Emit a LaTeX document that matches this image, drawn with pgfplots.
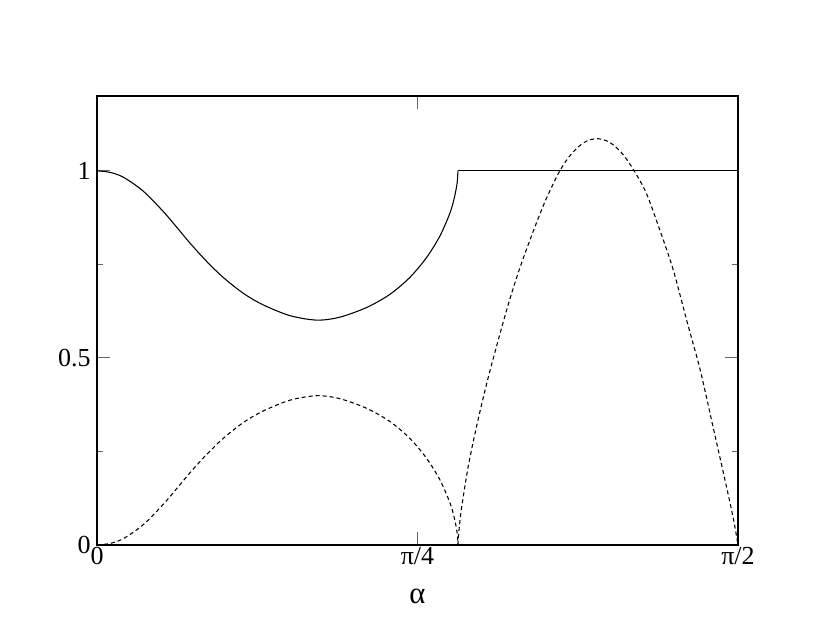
\documentclass[border=0pt]{standalone}
\usepackage{fontspec}
\setmainfont{Liberation Serif}
\usepackage{pgfplots}
\pgfplotsset{compat=1.18}
\usetikzlibrary{calc}
\begin{document}
\begin{tikzpicture}
\begin{axis}[
  name=ax,
  scale only axis,
  width=480.75pt, height=336.75pt,
  xmin=0, xmax=1, ymin=0, ymax=1.2,
  xtick={0,0.5,1},
  xticklabels={0,π/4,π/2},
  ytick={0,0.5,1},
  yticklabels={0,0.5,1},
  minor ytick={0.25,0.75},
  /pgf/number format/assume math mode=true,
  tick align=inside,
  major tick length=9.75pt,
  minor tick length=4.5pt,
  every tick/.style={color=black!60, line width=0.8pt},
  axis line style={line width=0.9pt},
  ticklabel style={font=\fontsize{19.5}{21}\selectfont},
  xticklabel style={inner sep=0pt, anchor=north, yshift=-1.5pt},
  yticklabel style={inner sep=0pt, anchor=east, xshift=-4.5pt},
  xlabel={α},
  xlabel style={font=\fontsize{23}{25}\selectfont, inner sep=0pt, at={(axis description cs:0.5,0)}, anchor=north, yshift=-33pt},
  clip=false,
]
\addplot[black, line width=0.8pt, smooth, tension=0.5] coordinates {
(0,1.000) (0.02,0.996) (0.041,0.983) (0.072,0.946) (0.103,0.892) (0.124,0.850)
(0.145,0.807) (0.171,0.758) (0.197,0.715) (0.228,0.673) (0.259,0.642)
(0.301,0.613) (0.343,0.601) (0.379,0.609) (0.421,0.635) (0.457,0.670)
(0.488,0.715) (0.514,0.768) (0.535,0.826) (0.551,0.889) (0.558,0.932)
(0.562,0.970) (0.563,1.000)
};
\addplot[black, line width=0.8pt] coordinates {(0.563,1.000) (1,1.000)};
\addplot[black, line width=0.8pt, smooth, tension=0.5, dash pattern=on 3pt off 2.25pt] coordinates {
(0,0) (0.02,0.004) (0.041,0.017) (0.072,0.054) (0.103,0.108) (0.124,0.150)
(0.145,0.193) (0.171,0.242) (0.197,0.285) (0.228,0.327) (0.259,0.358)
(0.301,0.387) (0.343,0.399) (0.379,0.391) (0.421,0.365) (0.457,0.330)
(0.488,0.285) (0.514,0.232) (0.535,0.174) (0.551,0.111) (0.558,0.068)
(0.562,0.030) (0.563,0.0)
};
\addplot[black, line width=0.8pt, smooth, tension=0.5, dash pattern=on 3pt off 2.25pt] coordinates {
(0.563,0.0)
(0.565,0.045) (0.569,0.102) (0.579,0.209) (0.592,0.316) (0.608,0.432)
(0.626,0.548) (0.643,0.651) (0.66,0.742) (0.68,0.836) (0.70,0.922)
(0.722,1.000) (0.74,1.045) (0.76,1.076) (0.78,1.086) (0.80,1.076)
(0.82,1.045) (0.838,1.000) (0.857,0.940) (0.878,0.842) (0.899,0.735)
(0.92,0.600) (0.941,0.468) (0.961,0.316) (0.982,0.156) (0.993,0.068) (1,0)
};
\end{axis}
\path ($(ax.south west)+(-72.75pt,-72.75pt)$) rectangle ($(ax.north east)+(69pt,72pt)$);
\end{tikzpicture}
\end{document}
